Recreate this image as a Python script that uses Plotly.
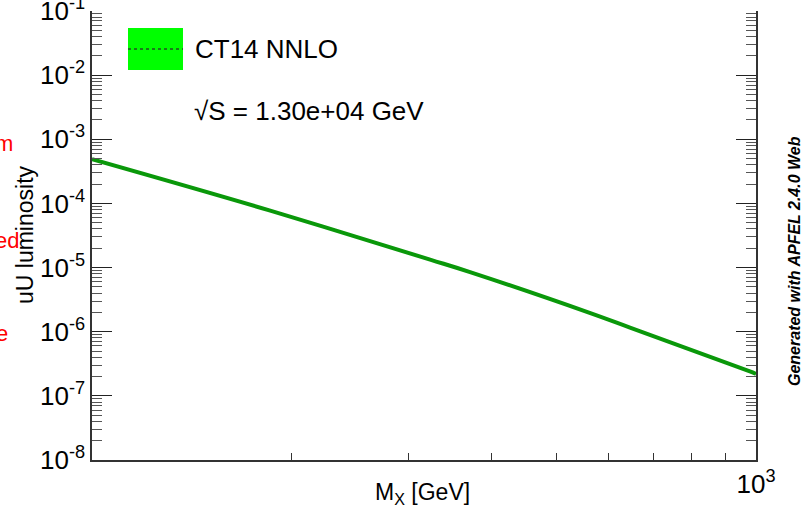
import plotly.graph_objects as go

# Data
mx_gev = [100, 185, 323, 371, 563, 646, 979, 1000]
uu_lumi = [4.9e-4, 7.8e-5, 1.33e-5, 8.5e-6, 1.95e-6, 1.16e-6, 2.4e-7, 2.2e-7]
series_name = "CT14 NNLO"
sqrt_s_label = "√S = 1.30e+04 GeV"
x_minor_ticks = [200, 300, 400, 500, 600, 700, 800, 900]
x_major_ticks = [1000]
x_major_text = ["10<sup>3</sup>"]
y_major_ticks = [1e-8, 1e-7, 1e-6, 1e-5, 1e-4, 1e-3, 1e-2, 1e-1]
y_major_text = ["10<sup>%d</sup>" % e for e in range(-8, 0)]
y_minor_ticks = [m * 10.0 ** e for e in range(-8, -1) for m in range(2, 10)]

FONT = "Liberation Sans, Arial, Helvetica, sans-serif"
GREEN = "#0a980a"

L, R, T, B = 92, 50, 11, 54
PW, PH = 806 - L - R, 514 - T - B

def px(x):
    return (x - L) / PW

def py(y):
    return 1 - (y - T) / PH

fig = go.Figure()
fig.add_trace(go.Scatter(x=mx_gev, y=uu_lumi, mode="lines",
                         line=dict(color=GREEN, width=4, shape="spline", smoothing=1),
                         name=series_name, showlegend=False))

fig.update_layout(
    width=806, height=514,
    margin=dict(l=L, r=R, t=T, b=B, autoexpand=False),
    paper_bgcolor="white", plot_bgcolor="white",
    font=dict(family=FONT, color="black", size=20),
    xaxis=dict(type="log", range=[2, 3], showgrid=False, zeroline=False,
               automargin=False, ticklabeloverflow="allow",
               showline=True, linecolor="#333", linewidth=1.5, mirror=False,
               tickmode="array", tickvals=x_major_ticks + x_minor_ticks,
               ticktext=x_major_text + [""] * len(x_minor_ticks),
               ticks="inside", ticklen=7, tickcolor="#333",
               tickfont=dict(family=FONT, size=26, color="black")),
    yaxis=dict(type="log", range=[-8, -1], showgrid=False, zeroline=False,
               automargin=False, ticklabeloverflow="allow",
               showline=True, linecolor="#333", linewidth=1.5, mirror="ticks",
               tickmode="array", tickvals=y_major_ticks, ticktext=y_major_text,
               ticks="inside", ticklen=20, tickcolor="#222",
               tickfont=dict(family=FONT, size=26, color="black"),
               minor=dict(tickmode="array", tickvals=y_minor_ticks,
                          ticks="inside", ticklen=10, tickcolor="#555",
                          showgrid=False)),
)

# Axis titles
fig.add_annotation(xref="paper", yref="paper", x=px(422), y=py(493),
                   text="M<sub>X</sub> [GeV]", showarrow=False,
                   xanchor="center", yanchor="middle", font=dict(size=23))
fig.add_annotation(xref="paper", yref="paper", x=px(25), y=py(235),
                   text="uU luminosity", showarrow=False, textangle=-90,
                   xanchor="center", yanchor="middle", font=dict(size=23))

# Legend drawn manually
fig.add_shape(type="rect", xref="paper", yref="paper",
              x0=px(128), x1=px(183), y0=py(70), y1=py(28),
              fillcolor="#00ff00", line=dict(width=0))
fig.add_shape(type="line", xref="paper", yref="paper",
              x0=px(128), x1=px(183), y0=py(49), y1=py(49),
              line=dict(color="#1a7a1a", width=2, dash="dot"))
fig.add_annotation(xref="paper", yref="paper", x=px(193), y=py(49),
                   text=series_name, showarrow=False,
                   xanchor="left", yanchor="middle", font=dict(size=26))
fig.add_annotation(xref="paper", yref="paper", x=px(192), y=py(111),
                   text=sqrt_s_label, showarrow=False,
                   xanchor="left", yanchor="middle", font=dict(size=26))

# Vertical credit text
fig.add_annotation(xref="paper", yref="paper", x=px(794), y=py(261),
                   text="<b><i>Generated with APFEL 2.4.0 Web</i></b>",
                   textangle=-90, showarrow=False, xanchor="center", yanchor="middle",
                   font=dict(size=16))

# Red text fragments at the left edge
for txt, xr, yy in [("m", 15, 143), ("ed", 21, 240), ("e", 10, 333)]:
    fig.add_annotation(xref="paper", yref="paper", x=px(xr), y=py(yy),
                       text=txt, showarrow=False,
                       xanchor="right", yanchor="middle",
                       font=dict(size=22, color="red"))

fig.write_html("out.html", config={"displayModeBar": False},
               post_script="document.body.style.margin='0';document.body.style.overflow='hidden';")
